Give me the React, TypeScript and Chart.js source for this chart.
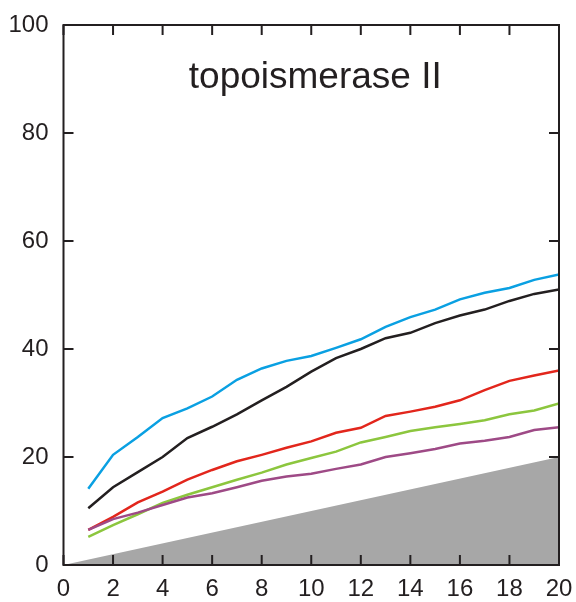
import React, { useEffect, useRef } from "react";
import { Chart, registerables } from "chart.js";

Chart.register(...registerables);

const xValues = [1, 2, 3, 4, 5, 6, 7, 8, 9, 10, 11, 12, 13, 14, 15, 16, 17, 18, 19, 20];
const blueSeries = [14.1, 20.4, 23.7, 27.2, 29.0, 31.2, 34.3, 36.4, 37.8, 38.7, 40.2, 41.8, 44.1, 45.9, 47.3, 49.2, 50.4, 51.3, 52.8, 53.8];
const blackSeries = [10.5, 14.4, 17.2, 20.0, 23.5, 25.6, 27.9, 30.5, 33.0, 35.8, 38.3, 40.0, 42.0, 43.0, 44.8, 46.2, 47.3, 48.9, 50.2, 51.0];
const redSeries = [6.5, 8.9, 11.6, 13.6, 15.8, 17.6, 19.2, 20.4, 21.7, 22.9, 24.5, 25.4, 27.6, 28.4, 29.3, 30.5, 32.4, 34.1, 35.1, 36.0];
const greenSeries = [5.2, 7.4, 9.4, 11.5, 13.0, 14.4, 15.8, 17.1, 18.6, 19.8, 21.0, 22.7, 23.7, 24.8, 25.5, 26.1, 26.8, 27.9, 28.6, 29.9];
const purpleSeries = [6.5, 8.5, 9.7, 11.1, 12.5, 13.3, 14.4, 15.6, 16.4, 16.9, 17.8, 18.6, 20.0, 20.7, 21.5, 22.5, 23.0, 23.7, 25.0, 25.5];
const baselineX = [0, 20];
const baselineY = [0, 20];
const titleText = "topoismerase II";

const FONT = "'Liberation Sans', Arial, sans-serif";

const framePlugin = {
  id: "frameTicks",
  afterDatasetsDraw(chart: any) {
    const { ctx, chartArea } = chart;
    const { left, right, top, bottom } = chartArea;
    const xs = chart.scales.x;
    const ys = chart.scales.y;
    ctx.save();
    ctx.strokeStyle = "#231f20";
    ctx.lineWidth = 2;
    ctx.beginPath();
    const tl = 10;
    xs.ticks.forEach((t: any) => {
      const px = xs.getPixelForValue(t.value);
      ctx.moveTo(px, bottom);
      ctx.lineTo(px, bottom - tl);
      ctx.moveTo(px, top);
      ctx.lineTo(px, top + tl);
    });
    ys.ticks.forEach((t: any) => {
      const py = ys.getPixelForValue(t.value);
      ctx.moveTo(left, py);
      ctx.lineTo(left + tl, py);
      ctx.moveTo(right, py);
      ctx.lineTo(right - tl, py);
    });
    ctx.stroke();
    ctx.strokeRect(left, top, right - left, bottom - top);
    ctx.fillStyle = "#231f20";
    ctx.font = `37px ${FONT}`;
    ctx.textAlign = "center";
    ctx.textBaseline = "alphabetic";
    ctx.fillText(titleText, (left + right) / 2 + 4, top + 63);
    ctx.restore();
  },
};

function mk(label: string, ys: number[], color: string) {
  return {
    label,
    data: xValues.map((x, i) => ({ x, y: ys[i] })),
    borderColor: color,
    backgroundColor: color,
    borderWidth: 2.5,
    pointRadius: 0,
    fill: false,
    tension: 0,
  };
}

export default function App() {
  const ref = useRef<HTMLCanvasElement | null>(null);
  useEffect(() => {
    document.body.style.margin = "0";
    const canvas = ref.current!;
    const chart = new Chart(canvas, {
      type: "line",
      data: {
        datasets: [
          {
            label: "baseline",
            data: baselineX.map((x, i) => ({ x, y: baselineY[i] })),
            borderColor: "rgba(0,0,0,0)",
            backgroundColor: "#a7a7a7",
            borderWidth: 0,
            pointRadius: 0,
            fill: "origin",
            order: 10,
          } as any,
          mk("purple", purpleSeries, "#9e4a86"),
          mk("green", greenSeries, "#8cc63e"),
          mk("red", redSeries, "#e2261c"),
          mk("black", blackSeries, "#231f20"),
          mk("blue", blueSeries, "#0aa0e2"),
        ],
      },
      options: {
        animation: false,
        responsive: false,
        maintainAspectRatio: false,
        layout: { padding: { top: 25, right: 17, left: 0, bottom: 0 } },
        plugins: { legend: { display: false }, tooltip: { enabled: false }, title: { display: false } },
        scales: {
          x: {
            type: "linear",
            min: 0,
            max: 20,
            ticks: { stepSize: 2, color: "#231f20", font: { family: FONT, size: 24 }, padding: 10, maxRotation: 0 },
            grid: { display: false, drawTicks: false },
            border: { display: false },
            afterFit(scale: any) {
              scale.height = 37;
              scale.paddingLeft = 0;
              scale.paddingRight = 0;
            },
          },
          y: {
            type: "linear",
            min: 0,
            max: 100,
            ticks: { stepSize: 20, color: "#231f20", font: { family: FONT, size: 24 }, padding: 15 },
            grid: { display: false, drawTicks: false },
            border: { display: false },
            afterFit(scale: any) {
              scale.width = 63.5;
              scale.paddingTop = 0;
              scale.paddingBottom = 0;
            },
          },
        },
      },
      plugins: [framePlugin],
    } as any);
    return () => chart.destroy();
  }, []);
  return <canvas ref={ref} width={576} height={602} style={{ display: "block" }} />;
}
